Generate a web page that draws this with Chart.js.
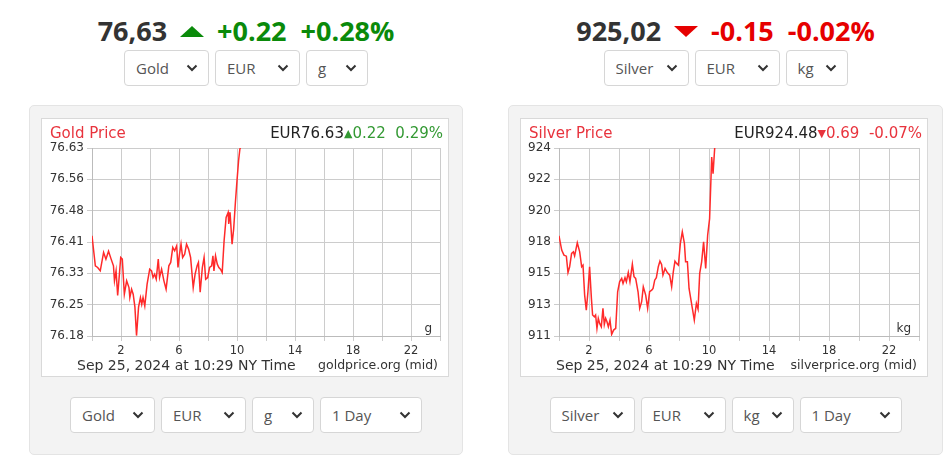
<!DOCTYPE html>
<html>
<head>
<meta charset="utf-8">
<script src="https://cdn.jsdelivr.net/npm/chart.js@4.4.1/dist/chart.umd.min.js"></script>
<style>
  body { margin:0; background:#fff; font-family:'Open Sans', sans-serif; width:949px; height:465px; overflow:hidden; position:relative; }
  .col { position:absolute; top:0; height:465px; }
  .price { position:absolute; top:13px; left:0; right:0; display:flex; justify-content:center; align-items:center;
           font-weight:700; font-size:27px; line-height:36px; white-space:nowrap; }
  .price .val { color:#333; }
  .price .up, .price .down { width:0; height:0; margin:0 13px; border-left:12px solid transparent; border-right:12px solid transparent; }
  .price .up { border-bottom:11px solid #0a8a0a; }
  .price .down { border-top:11px solid #e60000; }
  .price .chg { margin-right:14px; }
  .green { color:#0a8a0a; }
  .red { color:#e60000; }
  .row { position:absolute; left:0; right:0; display:flex; justify-content:center; gap:6px; }
  select { appearance:none; -webkit-appearance:none; height:36px; border:1px solid #d6d6d6; border-radius:4px; background:#fff;
           font-family:'Open Sans', sans-serif; font-size:15px; color:#555; padding:0 0 0 11px; box-sizing:border-box;
           background-image:url("data:image/svg+xml;utf8,<svg xmlns='http://www.w3.org/2000/svg' width='12' height='8'><path d='M1.5 1.5l4.5 4.5 4.5-4.5' fill='none' stroke='%23333' stroke-width='2'/></svg>");
           background-repeat:no-repeat; background-position:right 10px center; }
  .panel { position:absolute; top:105px; left:0; width:434px; height:350px; background:#f3f3f3; border:1px solid #e4e4e4; border-radius:5px; box-sizing:border-box; }
  .box { position:absolute; top:12px; left:11px; width:408px; height:259px; background:#fff; border:1px solid #d9d9d9; box-sizing:border-box; }
  .box canvas { display:block; }
</style>
</head>
<body>

<div class="col" style="left:29px; width:434px;">
  <div class="price"><span class="val">76,63</span><span class="up"></span><span class="green chg">+0.22</span><span class="green">+0.28%</span></div>
  <div class="row" style="top:50px;">
    <select style="width:85px"><option>Gold</option></select>
    <select style="width:85px"><option>EUR</option></select>
    <select style="width:62px"><option>g</option></select>
  </div>
  <div class="panel">
    <div class="box"><canvas id="goldChart" width="406" height="257"></canvas></div>
    <div class="row" style="top:291px;">
      <select style="width:85px"><option>Gold</option></select>
      <select style="width:85px"><option>EUR</option></select>
      <select style="width:62px"><option>g</option></select>
      <select style="width:102px"><option>1 Day</option></select>
    </div>
  </div>
</div>

<div class="col" style="left:508px; width:435px;">
  <div class="price"><span class="val">925,02</span><span class="down"></span><span class="red chg">-0.15</span><span class="red">-0.02%</span></div>
  <div class="row" style="top:50px;">
    <select style="width:85px"><option>Silver</option></select>
    <select style="width:85px"><option>EUR</option></select>
    <select style="width:62px"><option>kg</option></select>
  </div>
  <div class="panel" style="width:435px;">
    <div class="box"><canvas id="silverChart" width="406" height="257"></canvas></div>
    <div class="row" style="top:291px;">
      <select style="width:85px"><option>Silver</option></select>
      <select style="width:85px"><option>EUR</option></select>
      <select style="width:62px"><option>kg</option></select>
      <select style="width:102px"><option>1 Day</option></select>
    </div>
  </div>
</div>

<script>
// hours since midnight (NY time) and price
const goldTimes = [0, 0.23, 0.39, 0.57, 0.8, 0.96, 1.14, 1.32, 1.48, 1.55, 1.66, 1.77, 1.89, 1.98, 2.09, 2.23, 2.39, 2.55, 2.61, 2.73, 2.84, 2.96, 3.07, 3.21, 3.34, 3.43, 3.52, 3.64, 3.8, 3.98, 4.11, 4.21, 4.32, 4.43, 4.57, 4.66, 4.8, 4.96, 5.11, 5.3, 5.43, 5.57, 5.7, 5.84, 5.93, 6.02, 6.14, 6.25, 6.39, 6.52, 6.66, 6.8, 6.98, 7.11, 7.25, 7.34, 7.46, 7.61, 7.73, 7.84, 7.98, 8.11, 8.25, 8.34, 8.41, 8.52, 8.64, 8.75, 8.86, 8.98, 9.11, 9.25, 9.39, 9.43, 9.52, 9.66, 9.77, 9.89, 10.0, 10.11, 10.2, 10.25];
const goldPrices = [76.420, 76.348, 76.344, 76.336, 76.380, 76.364, 76.383, 76.364, 76.348, 76.312, 76.336, 76.277, 76.328, 76.368, 76.364, 76.280, 76.312, 76.296, 76.272, 76.292, 76.280, 76.249, 76.181, 76.249, 76.272, 76.256, 76.272, 76.252, 76.304, 76.340, 76.336, 76.320, 76.328, 76.316, 76.364, 76.320, 76.340, 76.312, 76.292, 76.348, 76.356, 76.392, 76.384, 76.396, 76.344, 76.372, 76.400, 76.368, 76.376, 76.400, 76.388, 76.368, 76.296, 76.328, 76.348, 76.356, 76.285, 76.344, 76.368, 76.316, 76.320, 76.344, 76.348, 76.372, 76.336, 76.372, 76.352, 76.344, 76.340, 76.332, 76.408, 76.464, 76.476, 76.448, 76.476, 76.400, 76.436, 76.500, 76.552, 76.600, 76.628, 76.630];

const silverTimes = [0, 0.18, 0.33, 0.49, 0.6, 0.71, 0.84, 0.96, 1.04, 1.22, 1.38, 1.51, 1.6, 1.71, 1.82, 1.93, 2.04, 2.16, 2.24, 2.36, 2.44, 2.53, 2.62, 2.71, 2.82, 2.93, 3.02, 3.11, 3.2, 3.29, 3.4, 3.51, 3.64, 3.78, 3.91, 4.04, 4.18, 4.27, 4.4, 4.49, 4.62, 4.73, 4.89, 5.0, 5.11, 5.27, 5.38, 5.51, 5.62, 5.78, 5.91, 6.04, 6.18, 6.27, 6.38, 6.49, 6.62, 6.73, 6.84, 6.93, 7.07, 7.22, 7.38, 7.51, 7.62, 7.73, 7.84, 7.96, 8.09, 8.22, 8.36, 8.44, 8.56, 8.67, 8.78, 8.89, 9.02, 9.16, 9.27, 9.38, 9.51, 9.64, 9.78, 9.91, 10.04, 10.18, 10.27, 10.38, 10.45];
const silverPrices = [917.93, 916.94, 916.59, 916.52, 915.39, 915.79, 916.71, 916.82, 916.54, 917.44, 916.82, 915.79, 915.90, 913.83, 912.79, 914.06, 915.79, 913.60, 912.45, 912.33, 912.45, 911.53, 912.22, 911.87, 911.64, 912.91, 911.80, 912.22, 911.99, 911.64, 912.10, 911.11, 911.41, 911.53, 914.06, 914.75, 914.98, 914.63, 915.03, 914.75, 915.39, 914.75, 915.97, 915.10, 914.98, 914.06, 912.91, 913.37, 914.40, 913.83, 912.91, 914.06, 914.17, 914.29, 914.86, 915.03, 915.79, 916.18, 915.95, 915.21, 915.67, 915.39, 915.21, 914.40, 915.44, 916.18, 916.02, 915.90, 917.40, 918.20, 917.40, 916.13, 916.13, 914.29, 913.60, 912.91, 912.10, 913.25, 912.86, 915.33, 916.13, 917.51, 915.67, 917.97, 919.12, 923.38, 922.23, 924.00, 924.48];

const xTickLabels = ['2', '6', '10', '14', '18', '22'];
const goldYTicks = ['76.18', '76.25', '76.33', '76.41', '76.48', '76.56', '76.63'];
const silverYTicks = ['911', '913', '915', '918', '920', '922', '924'];

// texts drawn inside the chart box
const infoText = {
  title: 'Price',
  date: 'Sep 25, 2024 at 10:29 NY Time'
};

const boxText = {
  id: 'boxText',
  afterDraw(chart, args, opts) {
    const ctx = chart.ctx, a = chart.chartArea;
    ctx.save();
    ctx.textBaseline = 'middle';
    // title left
    ctx.font = '15px "DejaVu Sans"';
    ctx.fillStyle = '#e8333d';
    ctx.textAlign = 'left';
    ctx.fillText(opts.title, 8, 15);
    // price on the right, drawn right to left
    let x = a.right + 3;
    ctx.textAlign = 'right';
    ctx.fillStyle = opts.color;
    ctx.fillText(opts.change, x, 15);
    x -= ctx.measureText(opts.change).width;
    ctx.font = '11px "DejaVu Sans"';
    ctx.fillText(opts.arrow, x, 15);
    x -= ctx.measureText(opts.arrow).width;
    ctx.font = '15px "DejaVu Sans"';
    ctx.fillStyle = '#222';
    ctx.fillText(opts.price, x, 15);
    // unit label
    ctx.font = '12px "DejaVu Sans"';
    ctx.fillStyle = '#333';
    ctx.fillText(opts.unit, a.right - 8, a.bottom - 7);
    // footer
    ctx.font = '14px "DejaVu Sans"';
    ctx.textAlign = 'left';
    ctx.fillText(infoText.date, 35, 247);
    ctx.font = '12.5px "DejaVu Sans"';
    ctx.textAlign = 'right';
    ctx.fillText(opts.site, a.right - 2, 247);
    ctx.restore();
  }
};

function makeChart(id, times, prices, yLabels, yWidth, info) {
  const yMin = Number(yLabels[0]);
  const yMax = Number(yLabels[yLabels.length - 1]);
  const points = times.map((t, i) => ({ x: t, y: prices[i] }));
  return new Chart(document.getElementById(id), {
    type: 'line',
    data: {
      datasets: [{
        data: points,
        borderColor: '#ff2a2a',
        borderWidth: 1.5,
        pointRadius: 0,
        tension: 0,
        fill: false
      }]
    },
    options: {
      responsive: false,
      animation: false,
      layout: { padding: { left: 0, top: 29, right: 8, bottom: 0 } },
      plugins: {
        legend: { display: false },
        tooltip: { enabled: false },
        boxText: info
      },
      scales: {
        x: {
          type: 'linear',
          min: 0,
          max: 24,
          afterBuildTicks: s => { s.ticks = []; for (let v = 0; v <= 24; v += 2) s.ticks.push({ value: v }); },
          afterFit: s => { s.height = 40; },
          ticks: {
            autoSkip: false,
            maxRotation: 0,
            padding: 3,
            color: '#333',
            font: { family: 'DejaVu Sans', size: 11.5 },
            callback: v => xTickLabels.includes(String(v)) ? String(v) : ''
          },
          grid: { color: '#cccccc', tickLength: 5 },
          border: { color: '#bbbbbb' }
        },
        y: {
          min: yMin,
          max: yMax,
          afterBuildTicks: s => { s.ticks = yLabels.map((l, i) => ({ value: yMin + i * (yMax - yMin) / (yLabels.length - 1) })); },
          afterFit: s => { s.width = yWidth; },
          ticks: {
            padding: 3,
            color: '#333',
            font: { family: 'DejaVu Sans', size: 12 },
            callback: (v, i) => yLabels[i]
          },
          grid: { color: '#cccccc', tickLength: 5 },
          border: { color: '#bbbbbb' }
        }
      }
    },
    plugins: [boxText]
  });
}

makeChart('goldChart', goldTimes, goldPrices, goldYTicks, 50, {
  title: 'Gold ' + infoText.title, price: 'EUR76.63', arrow: '▲', change: '0.22  0.29%',
  color: '#339933', unit: 'g', site: 'goldprice.org (mid)'
});
makeChart('silverChart', silverTimes, silverPrices, silverYTicks, 38, {
  title: 'Silver ' + infoText.title, price: 'EUR924.48', arrow: '▼', change: '0.69  -0.07%',
  color: '#e8333d', unit: 'kg', site: 'silverprice.org (mid)'
});
</script>
</body>
</html>
